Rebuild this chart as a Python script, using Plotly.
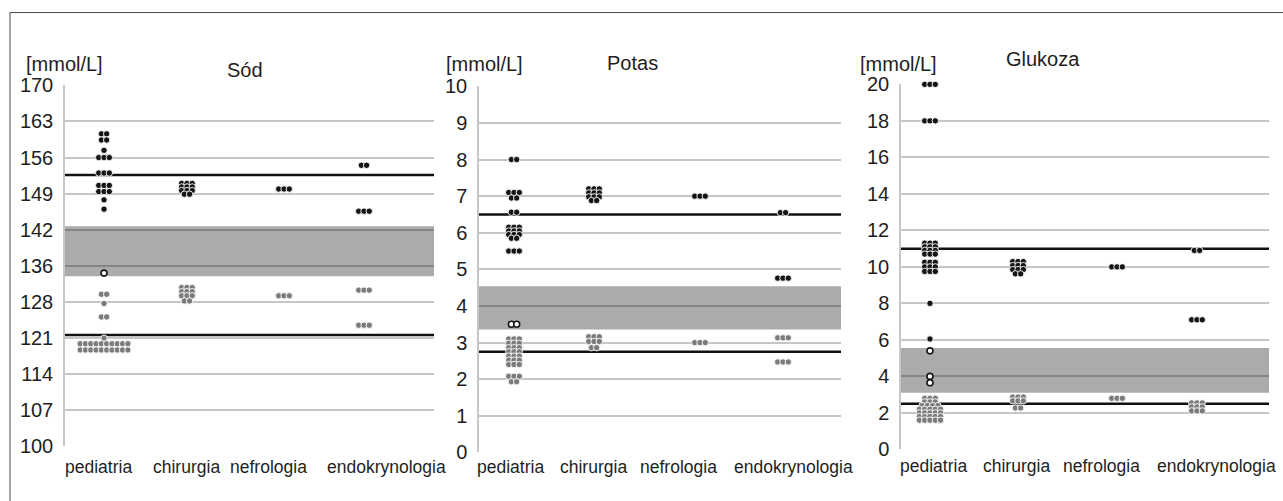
import plotly.graph_objects as go

W, H = 1283, 501

CATEGORIES = ["pediatria", "chirurgia", "nefrologia", "endokrynologia"]

# ---------------- Sód ----------------
SOD_TICKVALS = [100, 107, 114, 121, 128, 135, 142, 149, 156, 163, 170]
SOD_TICKTEXT = ["100", "107", "114", "121", "128", "136", "142", "149", "156", "163", "170"]
SOD_BAND = [133.0, 142.7]
SOD_LIMITS = [152.6, 121.6]
SOD_ABOVE = [
    [160.6, 160.6, 159.4, 159.4, 157.4, 156.0, 156.0, 156.0, 153.0, 153.0, 153.0,
     150.6, 150.6, 150.6, 149.4, 149.4, 149.4, 147.8, 146.0],
    [151.0, 151.0, 151.0, 150.3, 150.3, 150.3, 149.6, 149.6, 149.6, 148.9, 148.9],
    [149.9, 149.9, 149.9],
    [154.5, 154.5, 145.6, 145.6, 145.6],
]
SOD_BELOW = [
    [129.5, 129.5, 127.7, 125.1, 125.1, 121.0,
     119.9, 119.9, 119.9, 119.9, 119.9, 119.9, 119.9, 119.9, 119.9, 119.9,
     118.7, 118.7, 118.7, 118.7, 118.7, 118.7, 118.7, 118.7, 118.7, 118.7],
    [130.8, 130.8, 130.8, 130.0, 130.0, 130.0, 129.2, 129.2, 129.2, 128.2, 128.2],
    [129.2, 129.2, 129.2],
    [130.3, 130.3, 130.3, 123.5, 123.5, 123.5],
]
SOD_OPEN = [[133.6], [], [], []]

# ---------------- Potas ----------------
POT_TICKVALS = [0, 1, 2, 3, 4, 5, 6, 7, 8, 9, 10]
POT_TICKTEXT = ["0", "1", "2", "3", "4", "5", "6", "7", "8", "9", "10"]
POT_BAND = [3.36, 4.54]
POT_LIMITS = [6.5, 2.75]
POT_ABOVE = [
    [8.0, 8.0, 7.1, 7.1, 7.1, 6.95, 6.95, 6.56, 6.56,
     6.15, 6.15, 6.15, 6.05, 6.05, 6.05, 5.95, 5.95, 5.95, 5.85, 5.85,
     5.5, 5.5, 5.5],
    [7.2, 7.2, 7.2, 7.09, 7.09, 7.09, 6.98, 6.98, 6.98, 6.88, 6.88],
    [7.0, 7.0, 7.0],
    [6.55, 6.55, 4.76, 4.76, 4.76],
]
POT_BELOW = [
    [3.1, 3.1, 3.1, 2.98, 2.98, 2.98, 2.86, 2.86, 2.86, 2.75, 2.75, 2.75,
     2.63, 2.63, 2.63, 2.52, 2.52, 2.52, 2.4, 2.4, 2.4,
     2.08, 2.08, 2.08, 1.93, 1.93],
    [3.16, 3.16, 3.16, 3.03, 3.03, 3.03, 2.86, 2.86],
    [3.0, 3.0, 3.0],
    [3.13, 3.13, 3.13, 2.47, 2.47, 2.47],
]
POT_OPEN = [[3.5, 3.5], [], [], []]

# ---------------- Glukoza ----------------
GLU_TICKVALS = [0, 2, 4, 6, 8, 10, 12, 14, 16, 18, 20]
GLU_TICKTEXT = ["0", "2", "4", "6", "8", "10", "12", "14", "16", "18", "20"]
GLU_BAND = [3.1, 5.55]
GLU_LIMITS = [11.0, 2.5]
GLU_ABOVE = [
    [20.0, 20.0, 20.0, 18.0, 18.0, 18.0,
     11.3, 11.3, 11.3, 11.1, 11.1, 11.1, 10.9, 10.9, 10.9, 10.7, 10.7, 10.7,
     10.25, 10.25, 10.25, 10.0, 10.0, 10.0, 9.75, 9.75, 9.75, 8.0, 6.05],
    [10.29, 10.29, 10.29, 10.07, 10.07, 10.07, 9.85, 9.85, 9.85, 9.62, 9.62],
    [10.0, 10.0, 10.0],
    [10.9, 10.9, 7.1, 7.1, 7.1],
]
GLU_BELOW = [
    [2.8, 2.8, 2.8, 2.6, 2.6, 2.6, 2.4, 2.4, 2.4, 2.4,
     2.2, 2.2, 2.2, 2.2, 2.2, 2.0, 2.0, 2.0, 2.0, 2.0,
     1.8, 1.8, 1.8, 1.8, 1.8, 1.6, 1.6, 1.6, 1.6, 1.6],
    [2.87, 2.87, 2.87, 2.66, 2.66, 2.66, 2.27, 2.27],
    [2.8, 2.8, 2.8],
    [2.55, 2.55, 2.55, 2.33, 2.33, 2.33, 2.11, 2.11, 2.11],
]
GLU_OPEN = [[5.4, 4.0, 3.65], [], [], []]

# ---------------- layout (target pixel geometry) ----------------
PANELS = [
    dict(title="Sód", ticks=(SOD_TICKVALS, SOD_TICKTEXT), band=SOD_BAND, limits=SOD_LIMITS,
         above=SOD_ABOVE, below=SOD_BELOW, open=SOD_OPEN,
         px=(65, 434), py=(84, 446), dot_x=[0.423, 1.322, 2.374, 3.241],
         lab_x=[0.358, 1.312, 2.201, 3.480], lab_y=467,
         unit_xy=(64, 63), title_xy=(245, 69)),
    dict(title="Potas", ticks=(POT_TICKVALS, POT_TICKTEXT), band=POT_BAND, limits=POT_LIMITS,
         above=POT_ABOVE, below=POT_BELOW, open=POT_OPEN,
         px=(479, 841), py=(85, 452), dot_x=[0.387, 1.271, 2.442, 3.359],
         lab_x=[0.343, 1.260, 2.199, 3.470], lab_y=467,
         unit_xy=(484, 63), title_xy=(632, 62)),
    dict(title="Glukoza", ticks=(GLU_TICKVALS, GLU_TICKTEXT), band=GLU_BAND, limits=GLU_LIMITS,
         above=GLU_ABOVE, below=GLU_BELOW, open=GLU_OPEN,
         px=(901, 1269), py=(83, 449), dot_x=[0.315, 1.272, 2.348, 3.217],
         lab_x=[0.348, 1.250, 2.174, 3.424], lab_y=466,
         unit_xy=(898, 63), title_xy=(1043, 58)),
]

# the photographed page maps page y -> SHOT_OFF + SHOT_SCALE * y
SHOT_OFF = 9.45
SHOT_SCALE = 0.9586


def yfrac(target_px):
    return 1 - ((target_px - SHOT_OFF) / SHOT_SCALE) / H


DOT_STEP_PX = 5.3
FONT = "Liberation Sans, Arial, Helvetica, sans-serif"
TXT = "#1e1e1e"
GRID = "#c6c6c6"


def arrange(values, cx, step):
    counts = {}
    for v in values:
        counts[v] = counts.get(v, 0) + 1
    xs, ys = [], []
    for v, n in counts.items():
        for i in range(n):
            xs.append(cx + (i - (n - 1) / 2) * step)
            ys.append(v)
    return xs, ys


fig = go.Figure()
annotations = []
layout_axes = {}

for k, p in enumerate(PANELS):
    n = "" if k == 0 else str(k + 1)
    xa, ya = "x" + n, "y" + n
    x0, x1 = p["px"]
    ytop, ybot = p["py"]
    unit = (x1 - x0) / 4.0
    step = DOT_STEP_PX / unit
    tv, tt = p["ticks"]
    ymin, ymax = tv[0], tv[-1]

    layout_axes["xaxis" + n] = dict(
        domain=[x0 / W, x1 / W], range=[0, 4], showgrid=False, zeroline=False,
        showticklabels=False, showline=False, fixedrange=True, anchor=ya)
    layout_axes["yaxis" + n] = dict(
        domain=[yfrac(ybot), yfrac(ytop)], range=[ymin, ymax], tickvals=tv, ticktext=tt,
        showgrid=True, gridcolor=GRID, gridwidth=1.5, zeroline=False,
        showline=True, linecolor=GRID, linewidth=1.5, ticks="", ticklabelstandoff=6,
        tickfont=dict(family=FONT, size=20, color=TXT), fixedrange=True, anchor=xa)

    # reference band
    b0, b1 = p["band"]
    fig.add_trace(go.Scatter(
        x=[0, 4, 4, 0, 0], y=[b0, b0, b1, b1, b0], xaxis=xa, yaxis=ya, mode="lines",
        fill="toself", fillcolor="rgba(0,0,0,0.33)", line=dict(width=0),
        hoverinfo="skip", showlegend=False))
    # critical limits
    for lim in p["limits"]:
        fig.add_trace(go.Scatter(
            x=[0, 4], y=[lim, lim], xaxis=xa, yaxis=ya, mode="lines",
            line=dict(color="#111111", width=2.5), hoverinfo="skip", showlegend=False))

    # dots
    for group, color, fill in (("below", "#7b7b7b", None), ("above", "#151515", None),
                               ("open", "#151515", "white")):
        xs_all, ys_all = [], []
        for ci, vals in enumerate(p[group]):
            xs, ys = arrange(vals, p["dot_x"][ci], step)
            xs_all += xs
            ys_all += ys
        if not xs_all:
            continue
        if fill is None:
            marker = dict(size=6.4, color=color, line=dict(color="white", width=0.9))
        else:
            marker = dict(size=6.0, color="white", line=dict(color=color, width=1.6))
        fig.add_trace(go.Scatter(
            x=xs_all, y=ys_all, xaxis=xa, yaxis=ya, mode="markers", marker=marker,
            cliponaxis=False, hoverinfo="y", showlegend=False))

    # category labels
    for ci, cat in enumerate(CATEGORIES):
        annotations.append(dict(
            text=cat, x=p["lab_x"][ci], xref=xa, y=yfrac(p["lab_y"]), yref="paper",
            xanchor="center", yanchor="middle", showarrow=False,
            font=dict(family=FONT, size=17.5, color=TXT)))
    # unit label and title
    ux, uy = p["unit_xy"]
    annotations.append(dict(
        text="[mmol/L]", x=ux / W, y=yfrac(uy), xref="paper", yref="paper",
        xanchor="center", yanchor="middle", showarrow=False,
        font=dict(family=FONT, size=20, color=TXT)))
    tx, ty = p["title_xy"]
    annotations.append(dict(
        text=p["title"], x=tx / W, y=yfrac(ty), xref="paper", yref="paper",
        xanchor="center", yanchor="middle", showarrow=False,
        font=dict(family=FONT, size=20, color=TXT)))

fig.update_layout(
    width=W, height=H, margin=dict(l=0, r=0, t=0, b=0),
    paper_bgcolor="white", plot_bgcolor="white", showlegend=False,
    annotations=annotations,
    shapes=[dict(type="rect", xref="paper", yref="paper",
                 x0=10 / W, x1=1.02, y0=-0.05, y1=yfrac(11),
                 line=dict(color="#4a4a4a", width=1), fillcolor="rgba(0,0,0,0)")],
    **layout_axes)

fig.write_html(
    "out.html",
    config={"displayModeBar": False},
    post_script="document.body.style.margin='0';document.body.style.overflow='hidden';",
)
